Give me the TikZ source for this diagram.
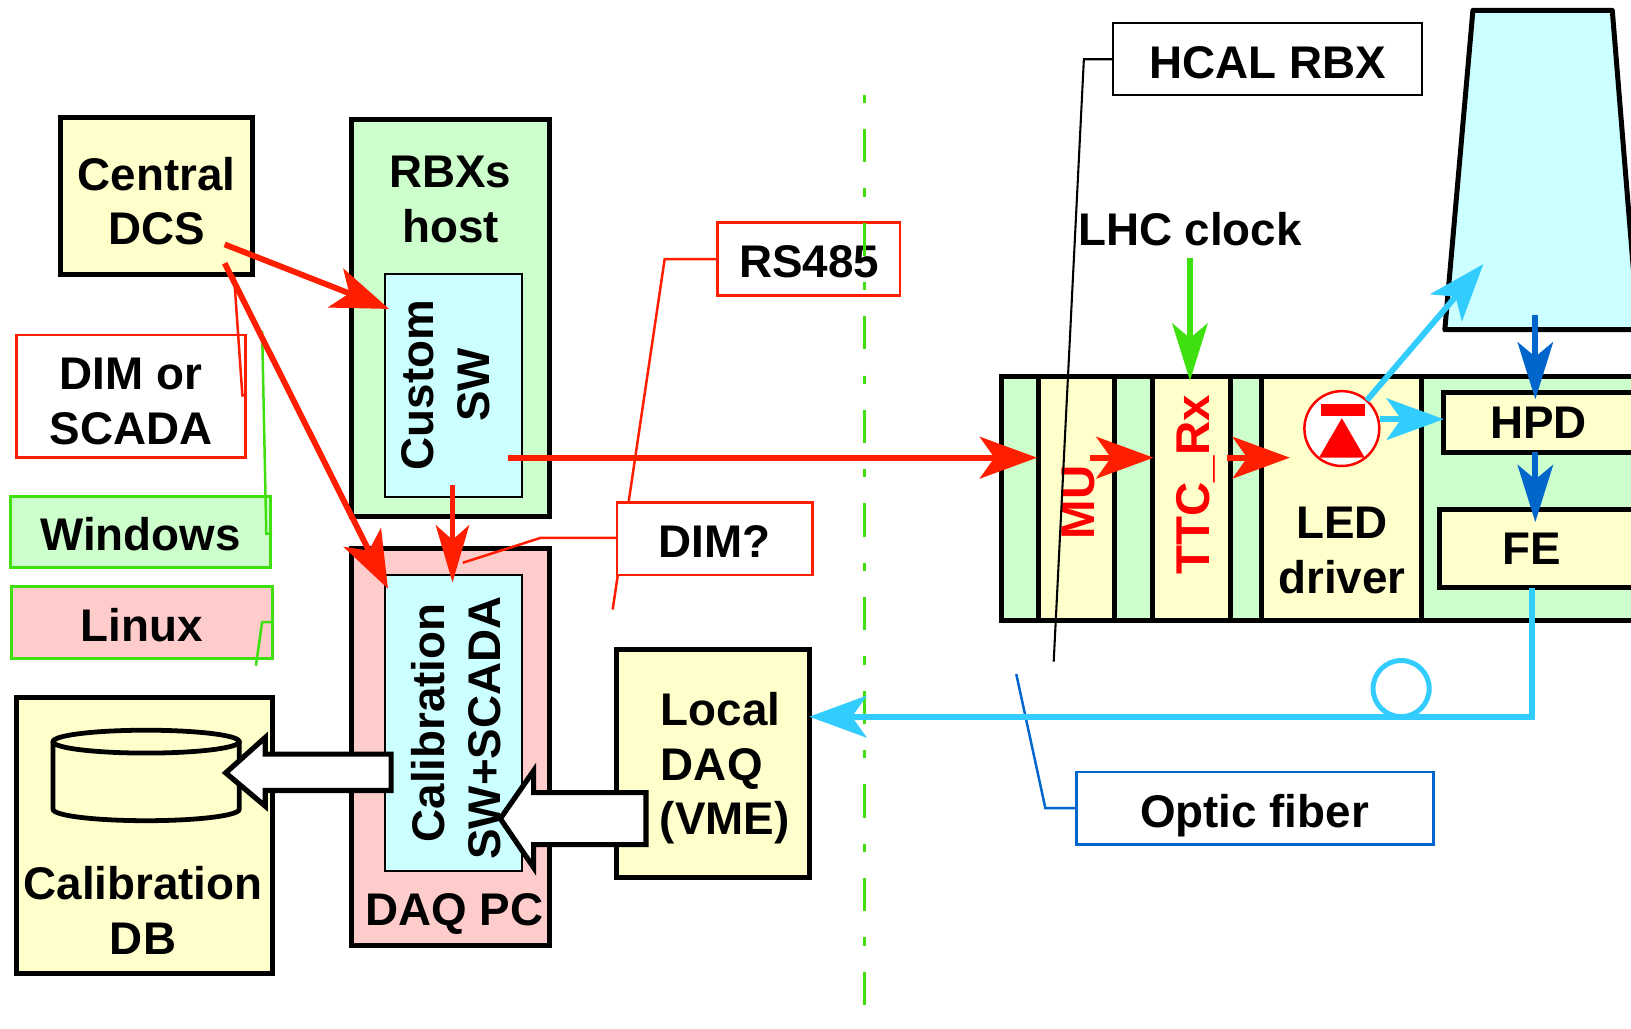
\documentclass[tikz,border=0pt]{standalone}
\usepackage{fontspec}
\setmainfont{Liberation Sans}
\usetikzlibrary{fit,arrows.meta,shapes.geometric}
\definecolor{cyel}{HTML}{FFFFCC}
\definecolor{cgrn}{HTML}{CCFFCC}
\definecolor{ccyn}{HTML}{CCFFFF}
\definecolor{cpnk}{HTML}{FFCCCC}
\definecolor{lred}{HTML}{FF1E00}
\definecolor{lgrn}{HTML}{40E010}
\definecolor{lsky}{HTML}{33CCFF}
\definecolor{lblu}{HTML}{0066CC}
\tikzset{
  frame/.style={fit={#1},inner sep=0pt,rectangle},
  thick box/.style={draw=black,line width=2.4pt},
  thin box/.style={draw=black,line width=1pt},
  note/.style={line width=1.2pt},
  txt/.style={font=\fontsize{22pt}{26pt}\bfseries\selectfont,anchor=base,inner sep=0pt},
  rtxt/.style={txt,rotate=90},
  redtxt/.style={rtxt,red,font=\fontsize{22.8pt}{26pt}\bfseries\selectfont},
  bigred/.style={draw=lred,line width=2.8pt,-{Stealth[length=27.5pt,width=20pt,inset=7pt]}},
  bigsky/.style={draw=lsky,line width=2.8pt,-{Stealth[length=27.5pt,width=20pt,inset=7pt]}},
  biggrn/.style={draw=lgrn,line width=2.8pt,-{Stealth[length=27.5pt,width=17pt,inset=7pt]}},
  bigblu/.style={draw=lblu,line width=2.8pt,-{Stealth[length=27.5pt,width=17pt,inset=7pt]}},
  callout/.style={note,line join=miter},
  block/.style={draw=black,fill=white,line width=2.5pt,line join=miter},
}
\begin{document}
\begin{tikzpicture}[x=0.5pt,y=-0.5pt]
\useasboundingbox (0,0) rectangle (1568,989);
\begin{scope}
\clip (0,0) rectangle (1568,989);

% left boxes
\node[frame={(58,113)(243,264)},thick box,fill=cyel] (dcs) {};
\node[txt] (dcs1) at (150.5,183) {Central};
\node[txt] (dcs2) at (151,235) {DCS};

\node[frame={(338,115)(528,497)},thick box,fill=cgrn] (host) {};
\node[txt] (host1) at (433,180) {RBXs};
\node[txt] (host2) at (433,233) {host};
\node[frame={(370,263)(502,478)},thin box,fill=ccyn] (custom) {};
\node[rtxt] (custom1) at (417,370) {Custom};
\node[rtxt] (custom2) at (471,370) {SW};

\node[frame={(338,527)(528,909)},thick box,fill=cpnk] (daqpc) {};
\node[frame={(370,553)(502,837)},thin box,fill=ccyn] (calsw) {};
\node[rtxt] (cal1) at (427,695) {Calibration};
\node[rtxt] (cal2) at (481,700) {SW+SCADA};
\node[txt] (daqpct) at (437,890) {DAQ PC};

% legend boxes
\node[frame={(16,322)(236,440)},draw=lred,line width=1.3pt,fill=white] (dimscada) {};
\node[txt] (dimscada1) at (126,374) {DIM or};
\node[txt] (dimscada2) at (126,427) {SCADA};
\node[frame={(10,477)(260,546)},draw=lgrn,line width=1.5pt,fill=cgrn] (win) {};
\node[txt] (wint) at (135,529) {Windows};
\node[frame={(11,564)(262,633)},draw=lgrn,line width=1.5pt,fill=cpnk] (lin) {};
\node[txt] (lint) at (136,617) {Linux};

% calibration DB
\node[frame={(16,671)(262,936)},thick box,fill=cyel] (caldb) {};
\node[txt] (caldb1) at (137.5,865) {Calibration};
\node[txt] (caldb2) at (137.5,918) {DB};
\draw[line width=2.3pt,fill=cyel] (51,713) -- (51,778) arc[start angle=180,end angle=0,x radius=89.5,y radius=11] -- (230,713);
\node[ellipse,draw=black,line width=2.3pt,fill=cyel,minimum width=89.5pt,minimum height=11pt,inner sep=0pt] (cyltop) at (140.5,713) {};

% local DAQ
\node[frame={(593,624)(778,844)},thick box,fill=cyel] (ldaq) {};
\node[txt,anchor=base west] (ldaq1) at (635,697) {Local};
\node[txt,anchor=base west] (ldaq2) at (635,750) {DAQ};
\node[txt,anchor=base west] (ldaq3) at (634,802) {(VME)};

% RBX body
\node[frame={(963,362)(1600,597)},thick box,fill=cgrn] (rbx) {};
\node[frame={(998,362)(1071,597)},thick box,fill=cyel] (mubox) {};
\node[frame={(1108,362)(1183,597)},thick box,fill=cyel] (ttcbox) {};
\node[frame={(1213,362)(1367,597)},thick box,fill=cyel] (ledbox) {};
\node[frame={(1388,377)(1600,435)},thick box,fill=cyel] (hpd) {};
\node[frame={(1384,490)(1600,565)},thick box,fill=cyel] (fe) {};
\node[txt] (hpdt) at (1479,422) {HPD};
\node[txt] (fet) at (1473,543) {FE};
\node[txt] (led1) at (1290,518) {LED};
\node[txt] (led2) at (1290,571) {driver};
\node[redtxt] (mut) at (1052,483) {MU};
\node[redtxt] (ttct) at (1163,466) {TTC\_Rx};

% HCAL RBX trapezoid
\coordinate (tr1) at (1416,10);
\coordinate (tr2) at (1550,10);
\coordinate (tr3) at (1575,317);
\coordinate (tr4) at (1389,317);
\draw[line width=2.4pt,fill=ccyn,line join=round] (tr1) -- (tr2) -- (tr3) -- (tr4) -- cycle;

% LED symbol
\node[circle,draw=red,line width=1.2pt,fill=white,minimum size=36pt,inner sep=0pt] (ledc) at (1290,412) {};
\fill[red] (1270,388) rectangle (1312,400);
\fill[red] (1268,440) -- (1290,402) -- (1312,440) -- cycle;

% optic-fibre loop
\node[circle,draw=lsky,line width=2.4pt,minimum size=27pt,inner sep=0pt] (loop) at (1347,662) {};

% callouts and legend boxes
\draw[callout,lred] (690,249) coordinate (rs0) -- (639,249) coordinate (rs1) -- (589,586) coordinate (rs2);
\draw[callout,lred] (593,517) coordinate (dq0) -- (520,517) coordinate (dq1) -- (445,541) coordinate (dq2);
\node[frame={(690,214)(865,284)},draw=lred,line width=1.2pt] (rs) {};
\node[txt] (rst) at (778,267) {RS485};
\node[frame={(593,483)(781,553)},draw=lred,line width=1.2pt,fill=white] (dimq) {};
\node[txt] (dimqt) at (687,536) {DIM?};
\node[frame={(1070,22)(1367,91)},draw=black,line width=1pt,fill=white] (hcal) {};
\node[txt] (hcalt) at (1219,75) {HCAL RBX};
\node[frame={(1035,742)(1378,812)},draw=lblu,line width=1.2pt,fill=white] (optic) {};
\node[txt] (optict) at (1206,796) {Optic fiber};
\node[txt] (lhc) at (1144,236) {LHC clock};

% centre dash-dot line
\coordinate (dashtop) at (831,91);
\coordinate (dashbot) at (831,989);
\draw[lgrn,line width=1.4pt,dash pattern=on 4pt off 12.5pt on 16pt off 12.5pt] (dashtop) -- (dashbot);

% legend leaders
\draw[callout,lred] (dimscada.east |- 0,380) coordinate (c1) -- (233,380) coordinate (c2) -- (225,265) coordinate (c3);
\draw[callout,lgrn] (win.east |- 0,513) coordinate (c4) -- (256,513) coordinate (c5) -- (252,318) coordinate (c6);
\draw[callout,lgrn] (lin.east |- 0,598) coordinate (c7) -- (252,598) coordinate (c8) -- (246,640) coordinate (c9);
\draw[line width=1pt] (1070,57) coordinate (h0) -- (1042,57) coordinate (h1) -- (1013,636) coordinate (h2);
\draw[callout,lblu] (1035,777) coordinate (o0) -- (1005,777) coordinate (o1) -- (977,648) coordinate (o2);

% white block arrows
\draw[block] (217,743) coordinate (ba1) -- (255,709) -- (255,725) -- (376,725) -- (376,760) -- (255,760) -- (255,775) -- cycle;
\draw[block] (481,787) coordinate (ba2) -- (513,741) -- (513,762) -- (621,762) -- (621,812) -- (513,812) -- (513,834) -- cycle;

% red connectors
\coordinate (r1a) at (216,235); \coordinate (r1b) at (374,297);
\coordinate (r2a) at (216,253); \coordinate (r2b) at (373,566);
\coordinate (r3a) at (435,466); \coordinate (r3b) at (435,560);
\coordinate (r4a) at (488,440); \coordinate (r4b) at (997,440);
\coordinate (r5a) at (1048,440); \coordinate (r5b) at (1109,440);
\coordinate (r6a) at (1180,440); \coordinate (r6b) at (1240,440);
\draw[bigred] (r1a) -- (r1b);
\draw[bigred] (r2a) -- (r2b);
\draw[bigred,-{Stealth[length=27.5pt,width=16pt,inset=7pt]}] (r3a) -- (r3b);
\draw[bigred] (r4a) -- (r4b);
\draw[bigred] (r5a) -- (r5b);
\draw[bigred] (r6a) -- (r6b);

% green clock
\coordinate (g1) at (1144,248); \coordinate (g2) at (1144,366);
\draw[biggrn] (g1) -- (g2);

% sky-blue connectors
\coordinate (s1a) at (1314,385); \coordinate (s1b) at (1426,254);
\coordinate (s2a) at (1327,403); \coordinate (s2b) at (1388,403);
\coordinate (s3a) at (1473,565); \coordinate (s3b) at (1473,689); \coordinate (s3c) at (778,689);
\draw[bigsky] (s1a) -- (s1b);
\draw[bigsky] (s2a) -- (s2b);
\draw[bigsky,line join=miter] (s3a) -- (s3b) -- (s3c);

% dark-blue connectors
\coordinate (b1a) at (1476,303); \coordinate (b1b) at (1476,384);
\coordinate (b2a) at (1476,435); \coordinate (b2b) at (1476,502);
\draw[bigblu] (b1a) -- (b1b);
\draw[bigblu] (b2a) -- (b2b);
\end{scope}
\end{tikzpicture}
\end{document}
